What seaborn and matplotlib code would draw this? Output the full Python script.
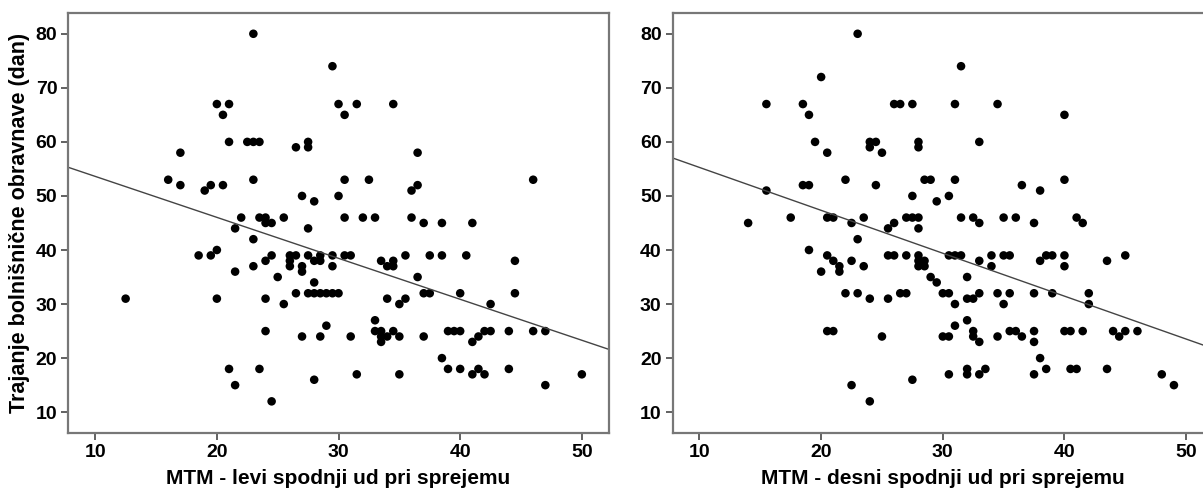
import numpy as np
import matplotlib
matplotlib.use('Agg')
import matplotlib.pyplot as plt
import seaborn as sns

# MTM - left lower limb at admission vs. length of stay (days)
left_x = [23, 29.5, 20, 21, 30, 31.5, 34.5, 20.5, 30.5,
          21, 22.5, 23, 23.5, 27.5, 26.5, 27.5, 17, 36.5,
          16, 23, 30.5, 32.5, 46, 17, 19.5, 20.5, 36.5, 19, 36,
          27, 30, 28,
          22, 23.5, 24, 25.5, 30.5, 32, 33, 36,
          24, 24.5, 37, 38.5, 41, 21.5, 27.5, 23, 20,
          18.5, 19.5, 24.5, 26, 26.5, 27.5, 28.5, 29.5, 30.5, 31, 35.5, 37.5, 38.5, 40.5,
          24, 26, 28, 28.5, 33.5, 34.5, 44.5,
          23, 26, 27, 29.5, 34, 34.5,
          21.5, 27, 25, 36.5, 28,
          26.5, 27.5, 28, 28.5, 29, 29.5, 30, 37, 37.5, 40, 44.5,
          12.5, 20, 24, 34, 35.5,
          25.5, 35, 42.5, 33, 29,
          24, 33, 33.5, 34.5, 39, 39.5, 40, 42, 42.5, 44, 46, 47,
          27, 28.5, 31, 33.5, 34, 35, 37, 41.5,
          33.5, 41, 38.5,
          21, 23.5, 39, 40, 41.5, 44,
          31.5, 35, 41, 42, 50,
          28, 21.5, 47, 24.5]
left_y = [80, 74, 67, 67, 67, 67, 67, 65, 65,
          60, 60, 60, 60, 60, 59, 59, 58, 58,
          53, 53, 53, 53, 53, 52, 52, 52, 52, 51, 51,
          50, 50, 49,
          46, 46, 46, 46, 46, 46, 46, 46,
          45, 45, 45, 45, 45, 44, 44, 42, 40,
          39, 39, 39, 39, 39, 39, 39, 39, 39, 39, 39, 39, 39, 39,
          38, 38, 38, 38, 38, 38, 38,
          37, 37, 37, 37, 37, 37,
          36, 36, 35, 35, 34,
          32, 32, 32, 32, 32, 32, 32, 32, 32, 32, 32,
          31, 31, 31, 31, 31,
          30, 30, 30, 27, 26,
          25, 25, 25, 25, 25, 25, 25, 25, 25, 25, 25, 25,
          24, 24, 24, 24, 24, 24, 24, 24,
          23, 23, 20,
          18, 18, 18, 18, 18, 18,
          17, 17, 17, 17, 17,
          16, 15, 15, 12]

# MTM - right lower limb at admission vs. length of stay (days)
right_x = [23, 31.5, 20,
           15.5, 18.5, 26, 26.5, 27.5, 31, 34.5,
           19, 40,
           19.5, 24, 24.5, 28, 33, 24, 28, 20.5, 25,
           22, 28.5, 29, 31, 40, 18.5, 19, 24.5, 36.5, 15.5, 38,
           27.5, 30.5, 29.5,
           17.5, 20.5, 21, 23.5, 27, 27.5, 28, 31.5, 32.5, 35, 36, 41,
           14, 22.5, 26, 33, 37.5, 41.5,
           25.5, 28, 23, 19,
           20.5, 25.5, 26, 27, 28, 30.5, 31, 31.5, 34, 35, 35.5, 38.5, 39, 40, 45,
           21, 22.5, 28, 28.5, 33, 38, 43.5,
           21.5, 23.5, 28, 28.5, 34, 40,
           20, 21.5, 29, 32, 29.5,
           22, 23, 26.5, 27, 30, 30.5, 33, 34.5, 35.5, 37.5, 39, 42,
           24, 25.5, 32, 32.5,
           31, 35, 42, 32, 31,
           20.5, 21, 32.5, 35.5, 36, 37.5, 40, 40.5, 41.5, 44, 45, 46,
           25, 30, 30.5, 32.5, 34.5, 36.5, 44.5,
           33, 37.5, 38,
           32, 33.5, 38.5, 40.5, 41, 43.5,
           30.5, 32, 33, 37.5, 48,
           27.5, 22.5, 49, 24]
right_y = [80, 74, 72,
           67, 67, 67, 67, 67, 67, 67,
           65, 65,
           60, 60, 60, 60, 60, 59, 59, 58, 58,
           53, 53, 53, 53, 53, 52, 52, 52, 52, 51, 51,
           50, 50, 49,
           46, 46, 46, 46, 46, 46, 46, 46, 46, 46, 46, 46,
           45, 45, 45, 45, 45, 45,
           44, 44, 42, 40,
           39, 39, 39, 39, 39, 39, 39, 39, 39, 39, 39, 39, 39, 39, 39,
           38, 38, 38, 38, 38, 38, 38,
           37, 37, 37, 37, 37, 37,
           36, 36, 35, 35, 34,
           32, 32, 32, 32, 32, 32, 32, 32, 32, 32, 32, 32,
           31, 31, 31, 31,
           30, 30, 30, 27, 26,
           25, 25, 25, 25, 25, 25, 25, 25, 25, 25, 25, 25,
           24, 24, 24, 24, 24, 24, 24,
           23, 23, 20,
           18, 18, 18, 18, 18, 18,
           17, 17, 17, 17, 17,
           16, 15, 15, 12]

x_ticks = [10, 20, 30, 40, 50]
y_ticks = [10, 20, 30, 40, 50, 60, 70, 80]
y_label = 'Trajanje bolnišnične obravnave (dan)'
x_labels = ['MTM - levi spodnji ud pri sprejemu', 'MTM - desni spodnji ud pri sprejemu']

sns.set_style('ticks')
plt.rcParams['font.family'] = ['Liberation Sans', 'DejaVu Sans']
plt.rcParams['font.weight'] = 'bold'
plt.rcParams['text.color'] = 'black'
plt.rcParams['axes.labelcolor'] = 'black'

fig = plt.figure(figsize=(12.03, 4.92), dpi=100)
ax1 = fig.add_axes([0.0569, 0.1205, 0.449, 0.8537])
ax2 = fig.add_axes([0.5592, 0.1205, 0.449, 0.8537])

panels = [(ax1, left_x, left_y, x_labels[0]), (ax2, right_x, right_y, x_labels[1])]
for ax, xs, ys, xl in panels:
    ax.set_xlim(7.8, 52.2)
    ax.set_ylim(6.2, 83.9)
    sns.regplot(x=np.array(xs), y=np.array(ys), ax=ax, ci=None, truncate=False,
                scatter_kws={'s': 38, 'color': 'black', 'edgecolors': 'none', 'alpha': 1},
                line_kws={'color': '#444444', 'linewidth': 1.0})
    ax.set_xticks(x_ticks)
    ax.set_yticks(y_ticks)
    ax.set_xlabel(xl, fontsize=15, fontweight='bold', labelpad=6, color='black')
    ax.tick_params(axis='both', which='major', bottom=True, left=True, top=False, right=False,
                   labelsize=14, length=5, width=1.3, direction='out', pad=3,
                   color='#555555', labelcolor='black')
    for lab in ax.get_xticklabels() + ax.get_yticklabels():
        lab.set_fontweight('bold')
    for sp in ax.spines.values():
        sp.set_visible(True)
        sp.set_color('#777777')
        sp.set_linewidth(1.6)

ax1.set_ylabel(y_label, fontsize=15.5, fontweight='bold', labelpad=4, color='black')
ax2.set_ylabel('')

fig.savefig('out.png', dpi=100)
